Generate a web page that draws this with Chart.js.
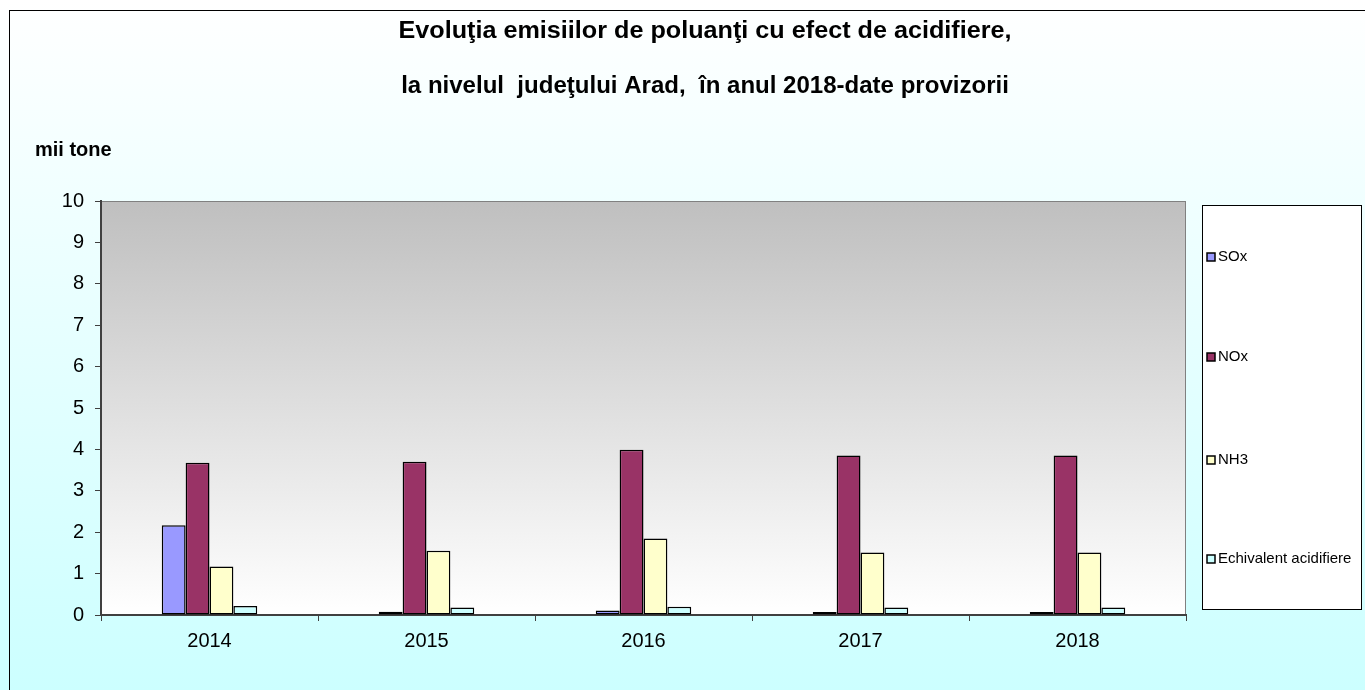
<!DOCTYPE html>
<html>
<head>
<meta charset="utf-8">
<script src="https://cdn.jsdelivr.net/npm/chart.js@4"></script>
<style>
  html, body { margin: 0; padding: 0; background: #fff; }
  #wrap { width: 1365px; height: 690px; }
</style>
</head>
<body>
<div id="wrap"><canvas id="myBarChart" width="1365" height="690"></canvas></div>
<script>
var years = ["2014", "2015", "2016", "2017", "2018"];
var sox = [2.17, 0.08, 0.11, 0.07, 0.07];
var nox = [3.68, 3.70, 3.99, 3.85, 3.85];
var nh3 = [1.17, 1.55, 1.85, 1.51, 1.51];
var echivalent = [0.22, 0.18, 0.20, 0.18, 0.18];
var seriesNames = ["SOx", "NOx", "NH3", "Echivalent acidifiere"];
var seriesColors = ["#9999FF", "#993366", "#FFFFCC", "#CCFFFF"];
var yTicks = [0, 10, 1]; // min, max, step

var titleLines = [
  "Evoluţia emisiilor de poluanţi cu efect de acidifiere,",
  "la nivelul  judeţului Arad,  în anul 2018-date provizorii"
];
var unitLabel = "mii tone";

var FONT = "'Liberation Sans', Arial, sans-serif";

// fundal, titlu, legenda
var decor = {
  id: 'decor',
  beforeDraw: function(chart) {
    var c = chart.ctx, w = chart.width, h = chart.height, a = chart.chartArea;
    c.save();
    var g = c.createLinearGradient(0, 0, 0, h);
    g.addColorStop(0, '#FFFFFF');
    g.addColorStop(1, '#CCFFFF');
    c.fillStyle = g;
    c.fillRect(0, 0, w, h);
    c.strokeStyle = '#000';
    c.lineWidth = 1;
    c.strokeRect(9.5, 10.5, w, h);

    var g2 = c.createLinearGradient(0, a.top, 0, a.bottom);
    g2.addColorStop(0, '#BFBFBF');
    g2.addColorStop(1, '#FFFFFF');
    c.fillStyle = g2;
    c.fillRect(a.left, a.top, a.right - a.left, a.bottom - a.top);
    c.strokeStyle = '#808080';
    c.strokeRect(a.left, a.top + 0.5, a.right - a.left - 0.5, a.bottom - a.top);

    c.fillStyle = '#000';
    c.textAlign = 'center';
    c.textBaseline = 'middle';
    c.font = 'bold 23px ' + FONT;
    // titlul e putin mai lat in original
    var stretch = [1.095, 1.045];
    var ty = [32, 87];
    for (var i = 0; i < titleLines.length; i++) {
      c.save();
      c.translate(705, ty[i]);
      c.scale(stretch[i], 1);
      c.fillText(titleLines[i], 0, 0);
      c.restore();
    }
    c.textAlign = 'left';
    c.font = 'bold 20px ' + FONT;
    c.fillText(unitLabel, 35, 150);
    c.restore();
  },
  afterDraw: function(chart) {
    var c = chart.ctx;
    c.save();
    c.fillStyle = '#FFFFFF';
    c.fillRect(1202, 205, 159, 404);
    c.strokeStyle = '#000';
    c.lineWidth = 1;
    c.strokeRect(1202.5, 205.5, 159, 404);
    var ys = [257, 357, 460, 559];
    c.font = '15px ' + FONT;
    c.textBaseline = 'middle';
    c.textAlign = 'left';
    chart.data.datasets.forEach(function(ds, i) {
      c.fillStyle = ds.backgroundColor;
      c.fillRect(1207, ys[i] - 4, 8, 8);
      c.lineWidth = 1.5;
      c.strokeStyle = '#000';
      c.strokeRect(1207, ys[i] - 4, 8, 8);
      c.fillStyle = '#000';
      c.fillText(ds.label, 1218, ys[i]);
    });
    c.restore();
  }
};

var allSeries = [sox, nox, nh3, echivalent];
var datasets = allSeries.map(function(vals, i) {
  return {
    label: seriesNames[i],
    data: vals,
    backgroundColor: seriesColors[i],
    borderColor: '#000000',
    borderWidth: 1.5,
    borderSkipped: false,
    barPercentage: 1.0,
    categoryPercentage: 0.44
  };
});

var ctx = document.getElementById("myBarChart").getContext('2d');
var myBarChart = new Chart(ctx, {
  type: 'bar',
  data: { labels: years, datasets: datasets },
  options: {
    responsive: false,
    animation: false,
    layout: { padding: { top: 201, right: 179, left: 0, bottom: 0 } },
    plugins: {
      legend: { display: false },
      title: { display: false },
      tooltip: { enabled: false }
    },
    scales: {
      x: {
        grid: { drawOnChartArea: false, drawTicks: true, tickLength: 6, color: '#404040', offset: true },
        border: { display: true, color: '#404040', width: 2 },
        ticks: { color: '#000', padding: 8, font: { family: FONT, size: 20 } },
        afterFit: function(scale) { scale.height = 75; }
      },
      y: {
        min: yTicks[0],
        max: yTicks[1],
        grid: { drawOnChartArea: false, drawTicks: true, tickLength: 6, color: '#404040' },
        border: { display: true, color: '#404040', width: 2 },
        ticks: { stepSize: yTicks[2], color: '#000', padding: 11, font: { family: FONT, size: 20 } },
        afterFit: function(scale) { scale.width = 101; }
      }
    }
  },
  plugins: [decor]
});
</script>
</body>
</html>
